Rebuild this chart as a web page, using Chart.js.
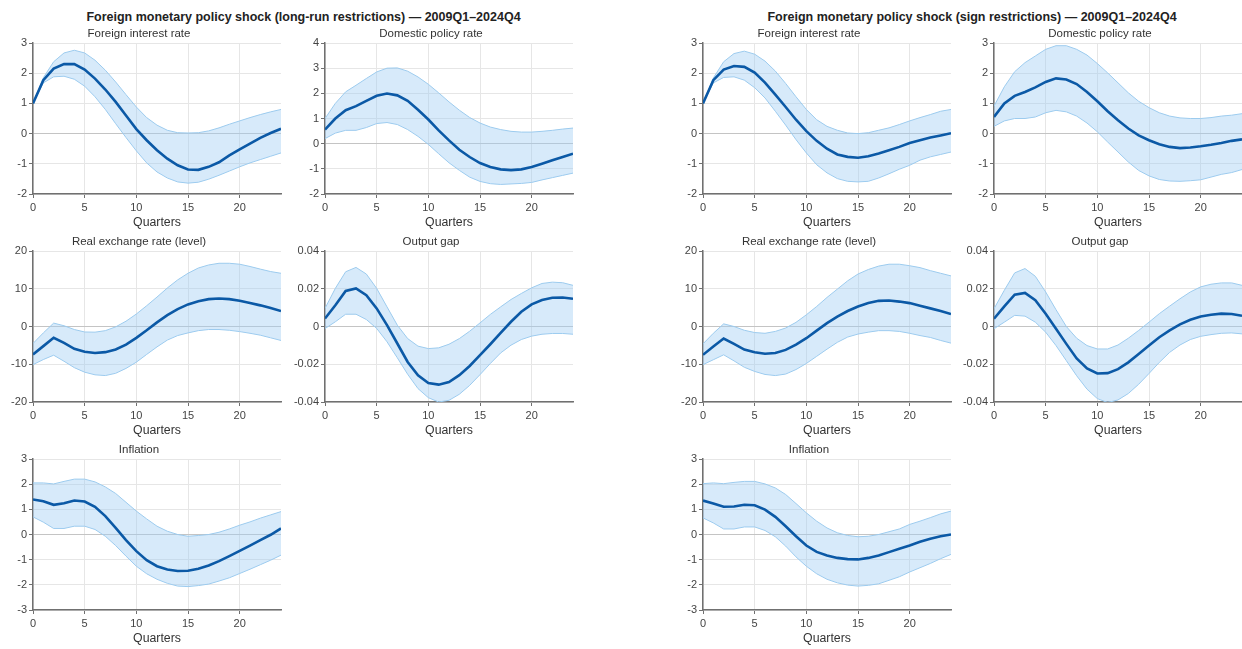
<!DOCTYPE html>
<html>
<head>
<meta charset="utf-8">
<script src="https://cdn.jsdelivr.net/npm/chart.js@4/dist/chart.umd.min.js"></script>
<style>
  html, body { margin: 0; padding: 0; background: #ffffff; }
  body { width: 1242px; height: 649px; position: relative; overflow: hidden; font-family: 'Liberation Sans', Arial, sans-serif; }
  .suptitle { position: absolute; width: 640px; text-align: center; font-weight: bold; font-size: 12.5px; line-height: 16px; color: #222; white-space: nowrap; }
  .panel { position: absolute; }
</style>
</head>
<body>
<div class="suptitle" style="left:-16.5px; top:9px;">Foreign monetary policy shock (long-run restrictions) — 2009Q1–2024Q4</div>
<div class="suptitle" style="left:652px; top:9px;">Foreign monetary policy shock (sign restrictions) — 2009Q1–2024Q4</div>
<script>
// Horizon (quarters after the shock)
const quarters = [0,1,2,3,4,5,6,7,8,9,10,11,12,13,14,15,16,17,18,19,20,21,22,23,24];
const xTicks = [0, 5, 10, 15, 20];
const panelTitles = ['Foreign interest rate', 'Domestic policy rate', 'Real exchange rate (level)', 'Output gap', 'Inflation'];

// ---- Long-run restrictions: median response and band ----
const lrForeignMed = [1.0,1.77,2.15,2.3,2.3,2.12,1.82,1.46,1.05,0.6,0.15,-0.22,-0.55,-0.83,-1.05,-1.19,-1.2,-1.1,-0.95,-0.72,-0.52,-0.33,-0.14,0.02,0.16];
const lrForeignHi  = [1.0,1.85,2.38,2.67,2.76,2.67,2.43,2.1,1.71,1.29,0.88,0.53,0.28,0.11,0.03,0.02,0.03,0.09,0.19,0.31,0.42,0.53,0.63,0.72,0.8];
const lrForeignLo  = [1.0,1.68,1.88,1.9,1.8,1.57,1.22,0.8,0.33,-0.13,-0.57,-0.97,-1.27,-1.47,-1.6,-1.64,-1.61,-1.51,-1.38,-1.24,-1.1,-0.97,-0.86,-0.75,-0.64];

const lrPolicyMed = [0.56,1.0,1.33,1.49,1.7,1.9,1.99,1.92,1.7,1.35,0.96,0.53,0.13,-0.24,-0.53,-0.77,-0.93,-1.02,-1.05,-1.02,-0.93,-0.8,-0.66,-0.53,-0.4];
const lrPolicyHi  = [1.0,1.6,2.06,2.32,2.59,2.85,3.0,3.01,2.88,2.65,2.36,2.02,1.66,1.33,1.04,0.82,0.66,0.56,0.49,0.46,0.46,0.49,0.53,0.58,0.62];
const lrPolicyLo  = [0.2,0.42,0.53,0.53,0.64,0.8,0.84,0.76,0.56,0.29,-0.03,-0.4,-0.76,-1.06,-1.33,-1.5,-1.59,-1.62,-1.6,-1.58,-1.54,-1.44,-1.35,-1.26,-1.17];

const lrRerMed = [-7.4,-5.2,-3.0,-4.35,-5.9,-6.7,-7.0,-6.8,-6.1,-4.8,-3.0,-1.0,1.1,3.0,4.6,5.85,6.7,7.25,7.4,7.25,6.8,6.2,5.6,4.9,4.1];
const lrRerHi  = [-4.5,-1.7,0.9,0.2,-0.8,-1.45,-1.5,-1.1,-0.1,1.4,3.3,5.5,7.8,10.2,12.35,14.1,15.5,16.3,16.75,16.75,16.5,15.9,15.2,14.55,14.1];
const lrRerLo  = [-10.1,-8.75,-7.6,-9.2,-10.9,-12.1,-12.8,-13.0,-12.4,-11.1,-9.45,-7.4,-5.4,-3.6,-2.4,-1.7,-1.1,-0.8,-0.8,-1.0,-1.35,-1.8,-2.3,-3.0,-3.7];

const lrGapMed = [0.0042,0.0113,0.0188,0.0202,0.0166,0.0096,0.0007,-0.009,-0.0188,-0.0258,-0.0299,-0.0308,-0.0294,-0.0258,-0.0209,-0.0152,-0.0094,-0.0034,0.0025,0.0078,0.0117,0.014,0.0152,0.0154,0.0147];
const lrGapHi  = [0.0096,0.0202,0.029,0.0313,0.0278,0.0202,0.0104,0.0007,-0.0064,-0.0104,-0.0117,-0.0113,-0.0094,-0.0064,-0.0025,0.0019,0.0064,0.0104,0.0143,0.0175,0.0205,0.0228,0.0235,0.0232,0.0218];
const lrGapLo  = [-0.0011,0.0025,0.0065,0.0065,0.0037,-0.001,-0.0081,-0.0166,-0.0253,-0.0329,-0.0377,-0.04,-0.0391,-0.0359,-0.0312,-0.0255,-0.0196,-0.014,-0.0099,-0.0069,-0.0051,-0.0041,-0.0037,-0.0037,-0.0041];

const lrInflMed = [1.39,1.32,1.18,1.24,1.35,1.31,1.1,0.73,0.26,-0.22,-0.66,-1.02,-1.26,-1.39,-1.45,-1.44,-1.36,-1.23,-1.06,-0.86,-0.65,-0.44,-0.22,-0.01,0.24];
const lrInflHi  = [2.05,2.05,2.01,2.11,2.2,2.2,2.09,1.89,1.63,1.28,0.93,0.62,0.33,0.13,0.0,-0.07,-0.04,0.0,0.09,0.22,0.37,0.5,0.65,0.78,0.91];
const lrInflLo  = [0.7,0.49,0.24,0.24,0.33,0.33,0.2,-0.07,-0.44,-0.86,-1.26,-1.56,-1.78,-1.94,-2.05,-2.07,-2.03,-1.97,-1.85,-1.72,-1.55,-1.38,-1.2,-1.02,-0.82];

// ---- Sign restrictions: median response and band ----
const srForeignMed = [1.0,1.77,2.12,2.24,2.21,2.02,1.69,1.29,0.88,0.46,0.08,-0.24,-0.5,-0.69,-0.77,-0.8,-0.75,-0.66,-0.55,-0.44,-0.31,-0.22,-0.13,-0.06,0.01];
const srForeignHi  = [1.0,1.84,2.38,2.65,2.73,2.63,2.4,2.07,1.66,1.22,0.8,0.46,0.24,0.11,0.02,0.0,0.03,0.11,0.19,0.3,0.42,0.53,0.63,0.74,0.8];
const srForeignLo  = [1.0,1.68,1.86,1.88,1.77,1.52,1.18,0.74,0.28,-0.2,-0.64,-1.03,-1.3,-1.49,-1.58,-1.6,-1.58,-1.47,-1.33,-1.18,-1.05,-0.88,-0.77,-0.69,-0.61];

const srPolicyMed = [0.55,1.0,1.25,1.38,1.53,1.71,1.83,1.79,1.64,1.38,1.07,0.74,0.44,0.17,-0.06,-0.22,-0.35,-0.44,-0.48,-0.46,-0.42,-0.37,-0.31,-0.24,-0.19];
const srPolicyHi  = [0.91,1.55,2.05,2.35,2.57,2.79,2.91,2.91,2.79,2.6,2.32,2.01,1.68,1.35,1.07,0.86,0.69,0.58,0.52,0.5,0.5,0.53,0.58,0.61,0.66];
const srPolicyLo  = [0.24,0.42,0.5,0.5,0.55,0.69,0.77,0.72,0.58,0.35,0.06,-0.28,-0.61,-0.94,-1.22,-1.4,-1.52,-1.57,-1.58,-1.56,-1.53,-1.44,-1.35,-1.29,-1.19];

const srRerMed = [-7.5,-5.3,-3.2,-4.6,-6.1,-6.8,-7.2,-7.0,-6.2,-4.8,-3.1,-1.1,0.9,2.6,4.1,5.3,6.2,6.8,6.9,6.6,6.2,5.5,4.8,4.1,3.3];
const srRerHi  = [-4.6,-1.8,0.7,0.0,-1.0,-1.6,-1.8,-1.3,-0.4,1.1,3.1,5.3,7.7,9.9,12.1,13.9,15.1,16.0,16.5,16.5,16.1,15.6,14.8,14.1,13.4];
const srRerLo  = [-10.1,-8.8,-7.5,-9.1,-10.8,-11.9,-12.7,-13.0,-12.6,-11.4,-9.8,-7.9,-6.0,-4.2,-2.8,-2.0,-1.5,-1.1,-1.1,-1.3,-1.8,-2.4,-2.9,-3.7,-4.4];

const srGapMed = [0.0041,0.0107,0.0169,0.0178,0.0139,0.0068,-0.0012,-0.0092,-0.0169,-0.0222,-0.0249,-0.0247,-0.0226,-0.019,-0.0146,-0.0101,-0.0057,-0.0021,0.0011,0.0036,0.0053,0.0062,0.0068,0.0066,0.0057];
const srGapHi  = [0.0094,0.0192,0.0284,0.0307,0.0266,0.0183,0.0089,0.0,-0.0062,-0.0101,-0.0119,-0.0119,-0.0098,-0.0062,-0.0021,0.0023,0.0068,0.0108,0.0147,0.0183,0.021,0.0224,0.0231,0.0231,0.0218];
const srGapLo  = [-0.0012,0.0023,0.0059,0.0055,0.0023,-0.003,-0.0101,-0.0181,-0.0261,-0.0332,-0.0382,-0.0403,-0.0389,-0.0355,-0.0306,-0.0249,-0.019,-0.0137,-0.0098,-0.0069,-0.0052,-0.0043,-0.0036,-0.0034,-0.0039];

const srInflMed = [1.35,1.23,1.1,1.11,1.18,1.16,0.99,0.7,0.33,-0.07,-0.44,-0.69,-0.83,-0.93,-0.98,-0.99,-0.93,-0.83,-0.7,-0.57,-0.44,-0.29,-0.17,-0.07,0.0];
const srInflHi  = [2.02,2.05,2.02,2.07,2.11,2.11,2.01,1.85,1.59,1.23,0.86,0.53,0.26,0.07,-0.04,-0.09,-0.07,0.0,0.11,0.22,0.4,0.53,0.67,0.82,0.93];
const srInflLo  = [0.66,0.46,0.22,0.22,0.3,0.3,0.16,-0.09,-0.46,-0.89,-1.26,-1.56,-1.78,-1.92,-2.01,-2.05,-2.02,-1.96,-1.82,-1.68,-1.49,-1.32,-1.15,-0.96,-0.79];

// Axis ranges for each variable: [min, max, step]
const foreignRange = [-2, 3, 1];
const lrPolicyRange = [-2, 4, 1];
const srPolicyRange = [-2, 3, 1];
const rerRange = [-20, 20, 10];
const gapRange = [-0.04, 0.04, 0.02];
const inflRange = [-3, 3, 1];

// Plot-area placement (px) of the panel grid
const colLeft = [33, 325, 703, 993.5];
const rowTop = [43, 251, 459];
const plotW = 248, plotH = 151;
const axisW = 36, headH = 20, footH = 40;

Chart.defaults.font.family = "'Liberation Sans', Arial, Helvetica, sans-serif";
Chart.defaults.color = '#444';

const toPoints = (arr) => quarters.map((q, i) => ({ x: q, y: arr[i] }));

function makePanel(left, top, title, med, lo, hi, range) {
  const wrap = document.createElement('div');
  wrap.className = 'panel';
  const cw = axisW + plotW + 2, ch = headH + plotH + footH;
  wrap.style.left = (left - axisW) + 'px';
  wrap.style.top = (top - headH) + 'px';
  wrap.style.width = cw + 'px';
  wrap.style.height = ch + 'px';
  const cv = document.createElement('canvas');
  cv.width = cw; cv.height = ch;
  cv.style.width = cw + 'px'; cv.style.height = ch + 'px';
  wrap.appendChild(cv);
  document.body.appendChild(wrap);

  new Chart(cv, {
    type: 'line',
    data: {
      datasets: [
        // lower edge of the band
        { data: toPoints(lo), order: 2, borderColor: '#9ccbee', borderWidth: 1, pointRadius: 0, fill: false, tension: 0 },
        // upper edge, filled down to the lower edge
        { data: toPoints(hi), order: 1, borderColor: '#9ccbee', borderWidth: 1, pointRadius: 0, fill: '-1',
          backgroundColor: 'rgba(160, 205, 242, 0.42)', tension: 0 },
        // median response, drawn on top
        { data: toPoints(med), order: 0, borderColor: '#0b59a6', borderWidth: 2.6, pointRadius: 0, fill: false, tension: 0 }
      ]
    },
    options: {
      responsive: false,
      animation: false,
      devicePixelRatio: 1,
      layout: { padding: { left: 0, right: 2, top: 0, bottom: 0 } },
      plugins: {
        legend: { display: false },
        tooltip: { enabled: false },
        title: {
          display: true, text: title, color: '#333',
          font: { size: 11.5, weight: 'normal' },
          padding: { top: 4, bottom: 2.2 }
        }
      },
      scales: {
        x: {
          type: 'linear', min: 0, max: 24,
          afterFit: (s) => { s.height = footH; },
          afterBuildTicks: (s) => { s.ticks = xTicks.map(v => ({ value: v })); },
          ticks: { font: { size: 11 }, color: '#444', padding: 3, maxRotation: 0 },
          grid: { color: '#e6e6e6', lineWidth: 1, tickLength: 4, tickColor: '#707070', tickWidth: 1 },
          border: { color: '#707070', width: 1.5 },
          title: { display: true, text: 'Quarters', color: '#333', font: { size: 12.3 }, padding: { top: 0, bottom: 4 } }
        },
        y: {
          min: range[0], max: range[1],
          afterFit: (s) => { s.width = axisW; },
          ticks: { stepSize: range[2], font: { size: 11 }, color: '#444', padding: 2 },
          grid: {
            color: (c) => (c.tick && Math.abs(c.tick.value) < 1e-9) ? '#c4c4c4' : '#e6e6e6',
            lineWidth: 1, tickLength: 4, tickColor: '#707070', tickWidth: 1
          },
          border: { color: '#707070', width: 1.5 }
        }
      }
    }
  });
}

// Long-run restrictions
makePanel(colLeft[0], rowTop[0], panelTitles[0], lrForeignMed, lrForeignLo, lrForeignHi, foreignRange);
makePanel(colLeft[1], rowTop[0], panelTitles[1], lrPolicyMed, lrPolicyLo, lrPolicyHi, lrPolicyRange);
makePanel(colLeft[0], rowTop[1], panelTitles[2], lrRerMed, lrRerLo, lrRerHi, rerRange);
makePanel(colLeft[1], rowTop[1], panelTitles[3], lrGapMed, lrGapLo, lrGapHi, gapRange);
makePanel(colLeft[0], rowTop[2], panelTitles[4], lrInflMed, lrInflLo, lrInflHi, inflRange);

// Sign restrictions
makePanel(colLeft[2], rowTop[0], panelTitles[0], srForeignMed, srForeignLo, srForeignHi, foreignRange);
makePanel(colLeft[3], rowTop[0], panelTitles[1], srPolicyMed, srPolicyLo, srPolicyHi, srPolicyRange);
makePanel(colLeft[2], rowTop[1], panelTitles[2], srRerMed, srRerLo, srRerHi, rerRange);
makePanel(colLeft[3], rowTop[1], panelTitles[3], srGapMed, srGapLo, srGapHi, gapRange);
makePanel(colLeft[2], rowTop[2], panelTitles[4], srInflMed, srInflLo, srInflHi, inflRange);
</script>
</body>
</html>
